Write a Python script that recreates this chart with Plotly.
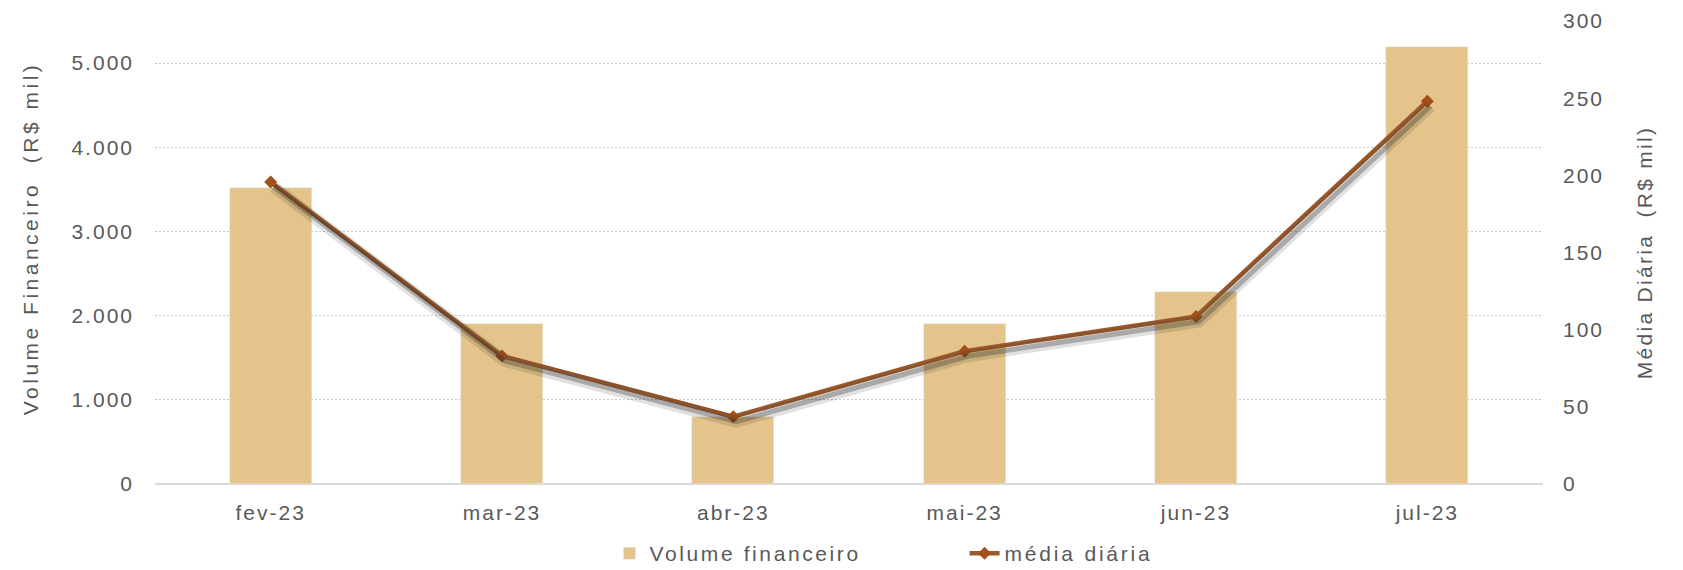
import plotly.graph_objects as go

categories = ["fev-23", "mar-23", "abr-23", "mai-23", "jun-23", "jul-23"]
volume = [3519, 1896, 797, 1896, 2275, 5190]
media = [195.7, 83, 43.6, 86, 108.5, 248]
y1_ticks = [0, 1000, 2000, 3000, 4000, 5000]
y2_ticks = [0, 50, 100, 150, 200, 250, 300]

BAR = "#E4C48A"
LINE = "#9A5A2C"
MARK = "#A34F1A"
TXT = "#595959"
FONT = "Liberation Sans, Arial, sans-serif"


def sp(text, ls):
    return f'<span style="letter-spacing:{ls}px">{text}</span>'


def thousands(v):
    return f"{v:,}".replace(",", ".")


fig = go.Figure()
fig.add_trace(go.Bar(x=categories, y=volume, name=sp("Volume financeiro", 2.6),
                     marker_color=BAR, width=0.355, yaxis="y"))
# soft shadow of the line
fig.add_trace(go.Scatter(x=categories, y=media, xaxis="x2", yaxis="y3",
                         mode="lines", line=dict(color="rgba(40,40,40,0.14)", width=12),
                         showlegend=False, hoverinfo="skip"))
fig.add_trace(go.Scatter(x=categories, y=media, xaxis="x2", yaxis="y3",
                         mode="lines", line=dict(color="rgba(40,40,40,0.30)", width=5),
                         showlegend=False, hoverinfo="skip"))
fig.add_trace(go.Scatter(x=categories, y=media, name=sp("média diária", 2.8), yaxis="y2",
                         mode="lines+markers", line=dict(color=LINE, width=4.5),
                         marker=dict(symbol="diamond", size=10, color=MARK)))

# page body has an 8px default margin, so the figure is sized to fit the window
fig.update_layout(
    width=1675, height=562,
    margin=dict(l=147, r=140, t=13, b=86, autoexpand=False),
    paper_bgcolor="white", plot_bgcolor="white",
    font=dict(family=FONT, color=TXT, size=21),
    bargap=0,
    xaxis=dict(type="category", range=[-0.5, 5.5], showgrid=False, showline=False,
               ticks="", tickmode="array", tickvals=categories,
               ticktext=[sp(c, 2) for c in categories], ticklabelstandoff=14,
               tickfont=dict(size=21, color=TXT)),
    xaxis2=dict(type="category", overlaying="x", range=[-0.5 - 0.013, 5.5 - 0.013],
                visible=False),
    yaxis=dict(range=[0, 5500], tickmode="array", tickvals=y1_ticks,
               ticktext=[sp(thousands(v), 2) for v in y1_ticks],
               showgrid=True, gridcolor="#C8C8C8",
               griddash="2px,2px", gridwidth=1, zeroline=True, zerolinecolor="#D9D9D9",
               zerolinewidth=2, ticks="", ticklabelstandoff=20,
               title=dict(text=sp("&nbsp;&nbsp;&nbsp;Volume Financeiro  (R$ mil)", 3.5),
                          font=dict(size=21, color=TXT), standoff=27),
               tickfont=dict(size=21, color=TXT)),
    yaxis2=dict(range=[0, 300], tickmode="array", tickvals=y2_ticks,
                ticktext=[sp(str(v), 2) for v in y2_ticks],
                overlaying="y", side="right", showgrid=False,
                zeroline=False, ticks="", ticklabelstandoff=19,
                title=dict(text=sp("Média Diária  (R$ mil)", 2.3),
                           font=dict(size=21, color=TXT), standoff=34),
                tickfont=dict(size=21, color=TXT)),
    yaxis3=dict(range=[3.24, 303.24], overlaying="y", visible=False),
    legend=dict(orientation="h", x=0.3275, xanchor="left", y=-0.106, yanchor="top",
                font=dict(size=21, color=TXT), entrywidth=310, itemwidth=30,
                bgcolor="rgba(0,0,0,0)"),
)

fig.write_html("out.html")
